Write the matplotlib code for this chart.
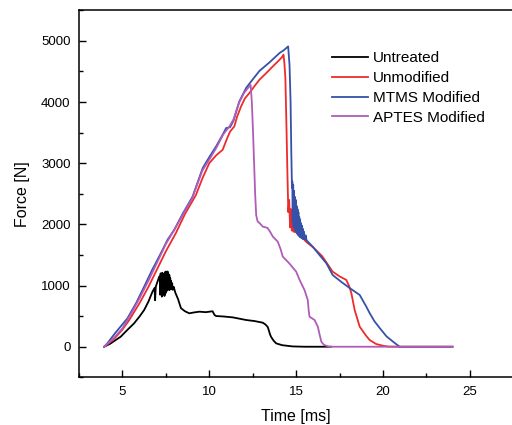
import matplotlib
matplotlib.use('Agg')
import matplotlib.pyplot as plt
from matplotlib.ticker import MultipleLocator

plt.rcParams['font.family'] = ['Liberation Sans', 'DejaVu Sans']

# Untreated
t_untr = [3.95, 4.3, 4.9, 5.3, 5.67, 6.0, 6.25, 6.5, 6.73, 6.85, 6.88, 6.92, 7.0, 7.12,
          7.15, 7.17, 7.20, 7.22, 7.25, 7.27, 7.30, 7.32, 7.35, 7.37, 7.40, 7.42, 7.45,
          7.47, 7.50, 7.52, 7.55, 7.57, 7.60, 7.62, 7.65, 7.67, 7.70, 7.72, 7.75, 7.77,
          7.80, 7.83, 7.86, 7.90, 7.95, 8.05, 8.2, 8.37, 8.6, 8.85,
          9.1, 9.43, 9.8, 10.19, 10.3, 10.39, 10.8, 11.35, 11.8, 12.12, 12.6, 13.08,
          13.25, 13.37, 13.5, 13.56, 13.7, 13.85, 14.2, 14.8, 15.5, 17.0]
f_untr = [0, 50, 164, 280, 382, 500, 600, 740, 900, 960, 760, 980, 1050, 1146,
          1150, 850, 1200, 880, 1180, 820, 1210, 860, 1190, 880, 1150, 830, 1220,
          870, 1230, 900, 1210, 920, 1230, 950, 1190, 930, 1170, 930, 1120, 950,
          1080, 940, 1040, 930, 980, 880, 780, 630, 580, 546,
          560, 573, 565, 580, 520, 502, 495, 480, 455, 437, 420, 393,
          360, 320, 200, 160, 100, 55, 25, 5, 0, 0]

# Unmodified
t_unmod = [3.95, 4.5, 5.0, 5.4, 6.0, 6.5, 7.0, 7.5, 8.08, 8.6, 9.23, 9.6, 10.0, 10.4,
           10.77, 11.06, 11.2, 11.35, 11.44, 11.6, 11.83, 12.05, 12.31, 12.6, 12.89,
           13.3, 13.66, 14.0, 14.2, 14.27, 14.32, 14.38, 14.45, 14.5, 14.55, 14.6,
           14.65, 14.7, 14.75, 14.8, 14.85, 14.9, 14.95, 15.0, 15.1, 15.3, 15.6, 16.0,
           16.5, 17.1, 17.5, 17.89, 18.05, 18.18, 18.37, 18.66, 19.0, 19.23, 19.6,
           20.0, 20.3, 21.0, 24.0]
f_unmod = [0, 120, 280, 440, 720, 980, 1270, 1560, 1860, 2170, 2480, 2750, 3002, 3130,
           3220, 3430, 3520, 3570, 3601, 3760, 3929, 4060, 4148, 4260, 4366,
           4480, 4584, 4680, 4740, 4775, 4650, 4400, 3500, 2800, 2200, 2400,
           1950, 2250, 1900, 2150, 1880, 2050, 1870, 1950, 1860, 1800, 1710, 1620,
           1480, 1228, 1150, 1092, 990, 874, 600, 327, 190, 110, 45,
           16, 3, 0, 0]

# MTMS Modified
t_mtms = [3.95, 4.13, 4.6, 5.29, 5.8, 6.25, 6.7, 7.21, 7.6, 7.98, 8.5, 9.04, 9.62, 10.0,
          10.39, 10.7, 10.97, 11.2, 11.4, 11.73, 12.12, 12.41, 12.89, 13.47, 14.05,
          14.3, 14.54, 14.62, 14.68, 14.72, 14.76, 14.78, 14.80, 14.83, 14.85, 14.88,
          14.90, 14.93, 14.95, 14.98, 15.0, 15.03, 15.05, 15.08, 15.1, 15.13, 15.15,
          15.18, 15.2, 15.23, 15.25, 15.28, 15.3, 15.33, 15.35, 15.38, 15.4, 15.45,
          15.5, 15.55, 15.6, 15.95,
          16.4, 16.74, 17.1, 17.6, 18.08, 18.66, 19.04, 19.23, 19.5, 19.81, 20.2,
          20.58, 20.96, 24.0]
f_mtms = [0, 55, 230, 465, 720, 982, 1250, 1528, 1750, 1910, 2190, 2455, 2920, 3100,
          3274, 3430, 3575, 3590, 3700, 4011, 4230, 4338, 4510, 4650, 4803,
          4850, 4910, 4600, 4000, 3200, 2600, 2700, 2050, 2650, 1950, 2550,
          1950, 2450, 1900, 2400, 1880, 2300, 1850, 2250, 1830, 2200, 1820,
          2120, 1800, 2080, 1790, 2020, 1780, 1980, 1770, 1930, 1760, 1880,
          1750, 1820, 1740, 1637,
          1480, 1365, 1173, 1060, 960, 846, 655, 551, 420, 306, 170,
          82, 0, 0]

# APTES Modified
t_aptes = [3.95, 4.5, 5.0, 5.5, 6.0, 6.5, 7.0, 7.5, 8.0, 8.5, 9.0, 9.6, 10.0, 10.4,
           10.8, 11.16, 11.4, 11.7, 12.0, 12.2, 12.38, 12.45, 12.52, 12.58, 12.64,
           12.7, 12.78, 12.9, 13.08, 13.35, 13.5, 13.66, 13.94, 14.1, 14.23, 14.6,
           15.0, 15.2, 15.48, 15.67, 15.72, 15.77, 16.06, 16.25, 16.35, 16.45, 16.6,
           16.9, 24.0]
f_aptes = [0, 140, 300, 540, 800, 1080, 1380, 1680, 1920, 2170, 2420, 2880, 3060, 3250,
           3470, 3601, 3720, 3980, 4150, 4220, 4280, 4000, 3500, 3000, 2500,
           2150, 2050, 2020, 1964, 1943, 1880, 1800, 1719, 1600, 1473, 1365,
           1228, 1092, 928, 764, 600, 491, 437, 327, 200, 82, 30,
           0, 0]

fig = plt.figure(figsize=(5.12, 4.25), dpi=100)
ax = fig.add_axes([0.1543, 0.1122, 0.8482, 0.8635])

ax.plot(t_untr, f_untr, color='black', lw=1.3, label='Untreated')
ax.plot(t_unmod, f_unmod, color='#ee2b2b', lw=1.3, label='Unmodified')
ax.plot(t_mtms, f_mtms, color='#3552a8', lw=1.3, label='MTMS Modified')
ax.plot(t_aptes, f_aptes, color='#b05cb8', lw=1.3, label='APTES Modified')

ax.set_xlim(2.5, 27.5)
ax.set_ylim(-500, 5500)
ax.xaxis.set_major_locator(MultipleLocator(5))
ax.xaxis.set_minor_locator(MultipleLocator(2.5))
ax.yaxis.set_major_locator(MultipleLocator(1000))
ax.yaxis.set_minor_locator(MultipleLocator(500))
ax.tick_params(which='major', direction='in', length=5, width=1, labelsize=9.5, pad=6)
ax.tick_params(which='minor', direction='in', length=3, width=1)
for s in ax.spines.values():
    s.set_linewidth(1.1)

ax.set_xlabel('Time [ms]', fontsize=11.5, labelpad=8)
ax.set_ylabel('Force [N]', fontsize=11.5, labelpad=8)

fig.legend(loc='upper left', bbox_to_anchor=(0.648, 0.879), frameon=False,
           fontsize=11, handlelength=2.4, handletextpad=0.31, labelspacing=0.38,
           borderpad=0, borderaxespad=0)

fig.savefig('out.png', dpi=100)
